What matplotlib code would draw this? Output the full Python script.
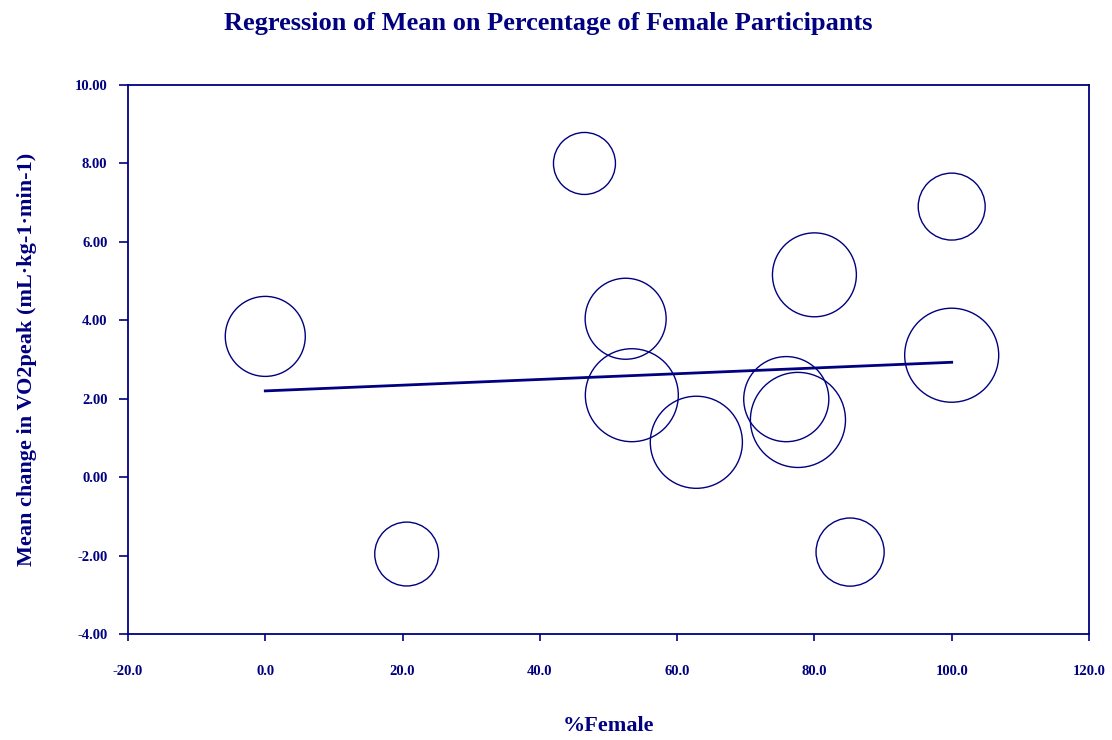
import matplotlib.pyplot as plt
import numpy as np

# study-level data: percentage of female participants vs mean change in VO2peak
pct_female = [0.0, 20.6, 46.5, 52.5, 53.4, 62.8, 75.9, 77.6, 80.0, 85.2, 100.0, 100.0]
mean_change = [3.59, -1.96, 8.00, 4.04, 2.09, 0.89, 1.99, 1.46, 5.16, -1.91, 6.90, 3.11]
# relative study weights (bubble area)
weights = [16.0, 10.2, 9.6, 16.4, 21.6, 21.2, 18.1, 22.6, 17.6, 11.6, 11.2, 22.1]

# fitted meta-regression line
intercept = 2.20
slope = 0.0073

navy = '#000080'
plt.rcParams['font.family'] = ['Liberation Serif', 'DejaVu Serif']
plt.rcParams['font.weight'] = 'bold'

fig = plt.figure(figsize=(11.12, 7.4), dpi=100)
ax = fig.add_axes([0.1151, 0.1432, 0.8642, 0.7419])

sizes = np.array(weights) * 207.4
ax.scatter(pct_female, mean_change, s=sizes, facecolors='none',
           edgecolors=navy, linewidths=1.0, zorder=2)

xs = np.array([0.0, 100.0])
ax.plot(xs, intercept + slope * xs, color=navy, lw=2.0, zorder=3)

ax.set_xlim(-20, 120)
ax.set_ylim(-4, 10)
ax.set_xticks(np.arange(-20, 121, 20))
ax.set_yticks(np.arange(-4, 10.1, 2))
ax.set_xticklabels(['%.1f' % v for v in np.arange(-20, 121, 20)])
ax.set_yticklabels(['%.2f' % v for v in np.arange(-4, 10.1, 2)])

for s in ax.spines.values():
    s.set_color(navy)
    s.set_linewidth(1.3)

ax.tick_params(axis='y', direction='out', length=6.3, width=1.2, color=navy,
               labelcolor=navy, labelsize=10.5, pad=8.5)
ax.tick_params(axis='x', direction='out', length=5, width=1.2, color=navy,
               labelcolor=navy, labelsize=10.5, pad=17.5)
for lab in ax.get_xticklabels() + ax.get_yticklabels():
    lab.set_fontweight('bold')

fig.text(0.493, 0.968, 'Regression of Mean on Percentage of Female Participants',
         ha='center', va='center', fontsize=19, fontweight='bold', color=navy)
ax.set_xlabel('%Female', fontsize=16, fontweight='bold', color=navy, labelpad=27)
ax.set_ylabel('Mean change in VO2peak (mL\u00b7kg-1\u00b7min-1)', fontsize=16,
              fontweight='bold', color=navy, labelpad=27)

fig.savefig('out.png', dpi=100)
